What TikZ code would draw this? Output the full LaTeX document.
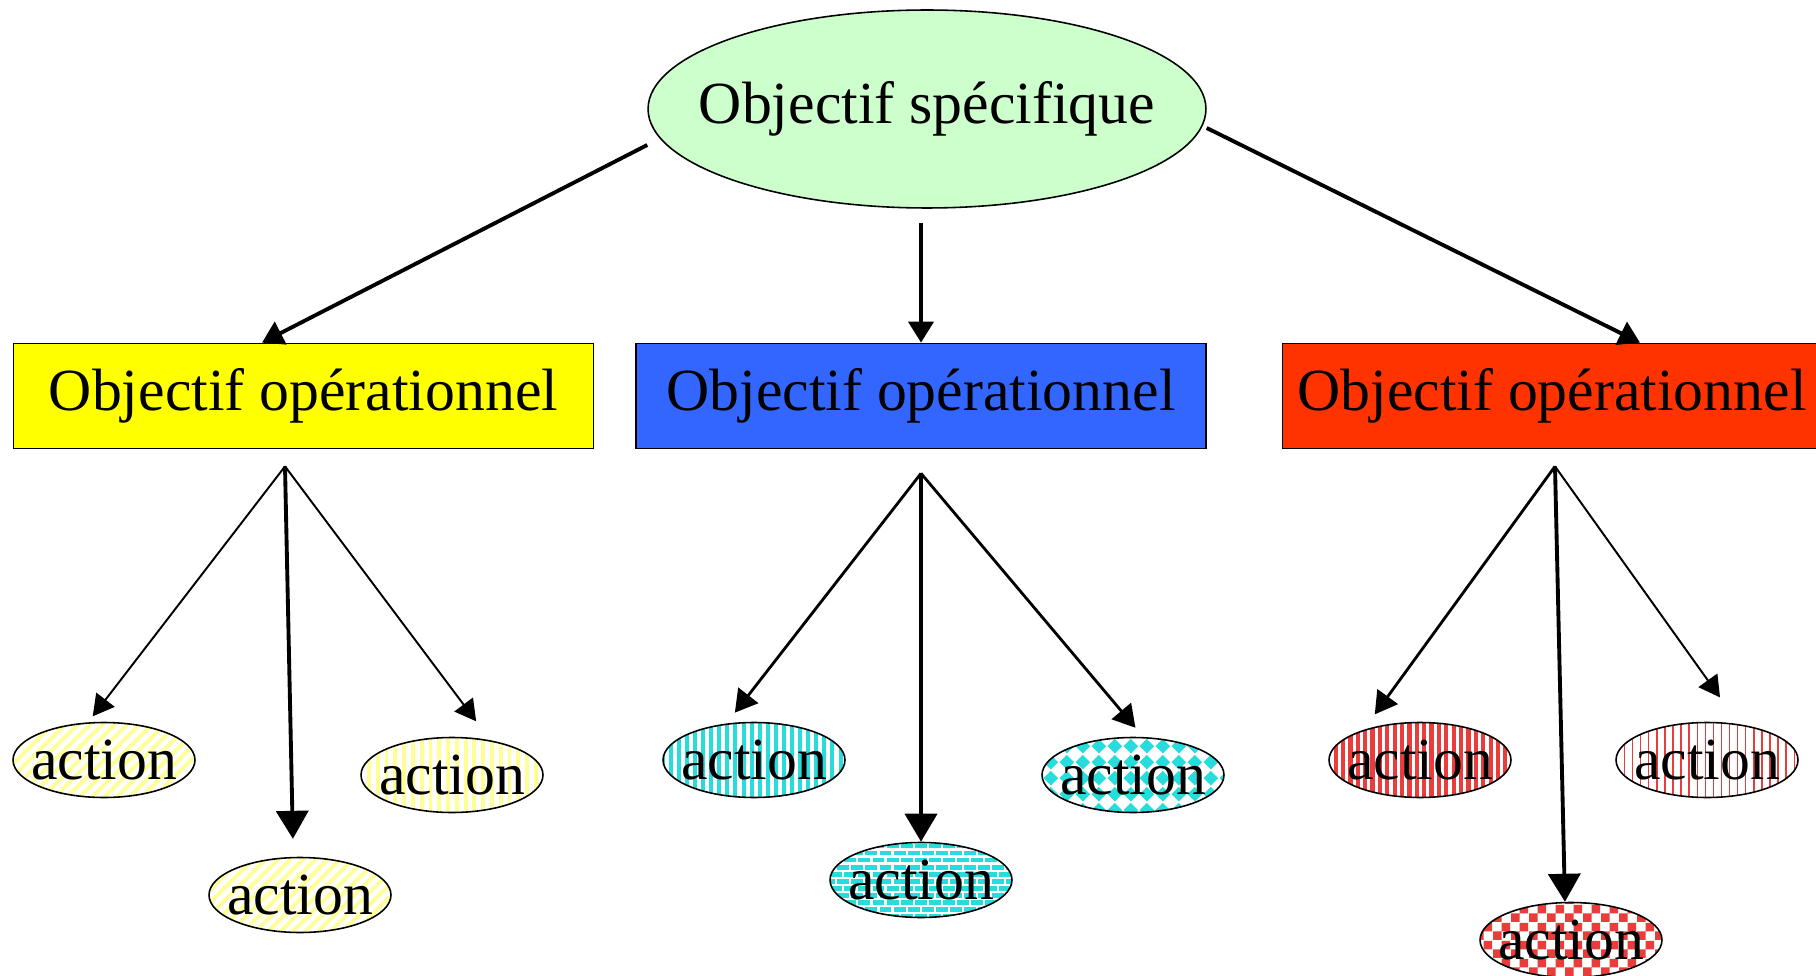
\documentclass[tikz,border=0pt]{standalone}
\usepackage{fontspec}
\setmainfont{Liberation Serif}
\usetikzlibrary{shapes.geometric,arrows.meta,patterns,patterns.meta}

\definecolor{vertpale}{RGB}{204,255,204}
\definecolor{jaune}{RGB}{255,255,0}
\definecolor{bleu}{RGB}{51,102,255}
\definecolor{rouge}{RGB}{255,51,0}
\definecolor{cyanclair}{RGB}{40,220,220}
\definecolor{rougeclair}{RGB}{235,60,60}
\definecolor{jaunepale}{RGB}{255,255,150}

% Motifs
\pgfdeclarepatternformonly{damier}{\pgfpointorigin}{\pgfqpoint{10pt}{10pt}}{\pgfqpoint{10pt}{10pt}}{%
  \pgfpathrectangle{\pgfpointorigin}{\pgfqpoint{5pt}{5pt}}%
  \pgfpathrectangle{\pgfqpoint{5pt}{5pt}}{\pgfqpoint{5pt}{5pt}}%
  \pgfusepath{fill}}
\pgfdeclarepatternformonly{losanges}{\pgfpointorigin}{\pgfqpoint{9pt}{9pt}}{\pgfqpoint{9pt}{9pt}}{%
  \pgfpathmoveto{\pgfqpoint{4.5pt}{0.3pt}}\pgfpathlineto{\pgfqpoint{8.7pt}{4.5pt}}%
  \pgfpathlineto{\pgfqpoint{4.5pt}{8.7pt}}\pgfpathlineto{\pgfqpoint{0.3pt}{4.5pt}}%
  \pgfpathclose\pgfusepath{fill}}
\pgfdeclarepatternformonly{mortier}{\pgfqpoint{-1pt}{-1pt}}{\pgfqpoint{9pt}{9pt}}{\pgfqpoint{8pt}{8pt}}{%
  \pgfsetlinewidth{1.2pt}%
  \pgfpathmoveto{\pgfqpoint{0pt}{0pt}}\pgfpathlineto{\pgfqpoint{8pt}{0pt}}%
  \pgfpathmoveto{\pgfqpoint{0pt}{4pt}}\pgfpathlineto{\pgfqpoint{8pt}{4pt}}%
  \pgfpathmoveto{\pgfqpoint{0pt}{0pt}}\pgfpathlineto{\pgfqpoint{0pt}{4pt}}%
  \pgfpathmoveto{\pgfqpoint{4pt}{4pt}}\pgfpathlineto{\pgfqpoint{4pt}{8pt}}%
  \pgfusepath{stroke}}

\begin{document}
\begin{tikzpicture}[x=0.02cm,y=-0.02cm,
    texte/.style={font=\fontsize{34}{40}\selectfont},
    specif/.style={texte,ellipse,draw,line width=0.9pt,fill=vertpale,
      inner xsep=-20pt,inner ysep=0pt,minimum width=11.16cm,minimum height=3.96cm},
    operat/.style={texte,rectangle,draw,line width=1pt,inner sep=0pt,minimum height=2.1cm},
    act/.style={texte,ellipse,draw,line width=0.9pt,inner xsep=-6pt,inner ysep=1pt,
      minimum width=3.64cm,minimum height=1.5cm},
    fleche/.style={-{Triangle[length=0.42cm,width=0.5cm]},line width=2.2pt},
    fin/.style={-{Triangle[length=0.42cm,width=0.46cm]},line width=1.1pt},
    moyen/.style={-{Triangle[length=0.44cm,width=0.5cm]},line width=1.6pt},
    gros/.style={-{Triangle[length=0.56cm,width=0.64cm]},line width=2.2pt}]

    % Fond
    \fill[white] (0,0) rectangle (1816,976);
    \useasboundingbox (0,0) rectangle (1816,976);

    % Objectif spécifique
    \node[specif] (spec) at (927,109) {Objectif spécifique};

    % Objectifs opérationnels
    \node[operat,fill=jaune,minimum width=11.6cm] (yb) at (303.5,396) {Objectif opérationnel};
    \node[operat,fill=bleu,minimum width=11.4cm] (bb) at (921,396) {Objectif opérationnel};
    \node[operat,fill=rouge,minimum width=10.78cm] (rb) at (1552,396) {Objectif opérationnel};

    \draw[fleche] ([yshift=-0.72cm]spec.west) -- ([xshift=-0.83cm]yb.north);
    \draw[fleche,shorten <=0.28cm] (bb.north |- spec.south) -- (bb.north);
    \draw[fleche] ([yshift=-0.38cm]spec.east) -- ([xshift=1.76cm]rb.north);

    % Départs des flèches
    \coordinate (yo) at ([xshift=-0.37cm,yshift=-0.34cm]yb.south);
    \coordinate (bo) at ([yshift=-0.48cm]bb.south);
    \coordinate (ro) at ([xshift=0.06cm,yshift=-0.34cm]rb.south);

    % Actions (jaune)
    \node[act,pattern={Lines[angle=45,distance=5pt,line width=2.2pt]},pattern color=jaunepale] (ya1) at (104,760) {action};
    \node[act,pattern={Lines[angle=45,distance=5pt,line width=2.2pt]},pattern color=jaunepale] (ya2) at (300,895) {action};
    \node[act,pattern={Lines[angle=90,distance=5pt,line width=2.2pt]},pattern color=jaunepale] (ya3) at (452,775) {action};

    % Actions (bleu)
    \node[act,pattern={Lines[angle=90,distance=4.6pt,line width=2.3pt]},pattern color=cyanclair] (ba1) at (754,760) {action};
    \node[act,preaction={fill=cyanclair},pattern=mortier,pattern color=white] (ba2) at (921,880) {action};
    \node[act,pattern=losanges,pattern color=cyanclair] (ba3) at (1133,775) {action};

    % Actions (rouge)
    \node[act,pattern={Lines[angle=90,distance=4.2pt,line width=2.4pt]},pattern color=rougeclair] (ra1) at (1420,760) {action};
    \node[act,pattern=damier,pattern color=rougeclair] (ra2) at (1571,940) {action};
    \node[act,pattern={Lines[angle=90,distance=4.6pt,line width=0.8pt]},pattern color=rougeclair] (ra3) at (1707,760) {action};

    % Flèches vers les actions
    \draw[fin,shorten >=0.12cm] (yo) -- (ya1.111);
    \draw[gros,shorten >=0.36cm] (yo) -- (ya2.100);
    \draw[fin,shorten >=0.44cm] (yo) -- (ya3.44);
    \draw[moyen,shorten >=0.24cm] (bo) -- (ba1.125);
    \draw[gros] (bo) -- (ba2.north);
    \draw[moyen,shorten >=0.24cm] (bo) -- (ba3.75);
    \draw[moyen,shorten >=0.34cm] (ro) -- (ra1.150);
    \draw[gros] (ro) -- (ra2.99);
    \draw[fin,shorten >=0.66cm] (ro) -- (ra3.48);

\end{tikzpicture}
\end{document}
